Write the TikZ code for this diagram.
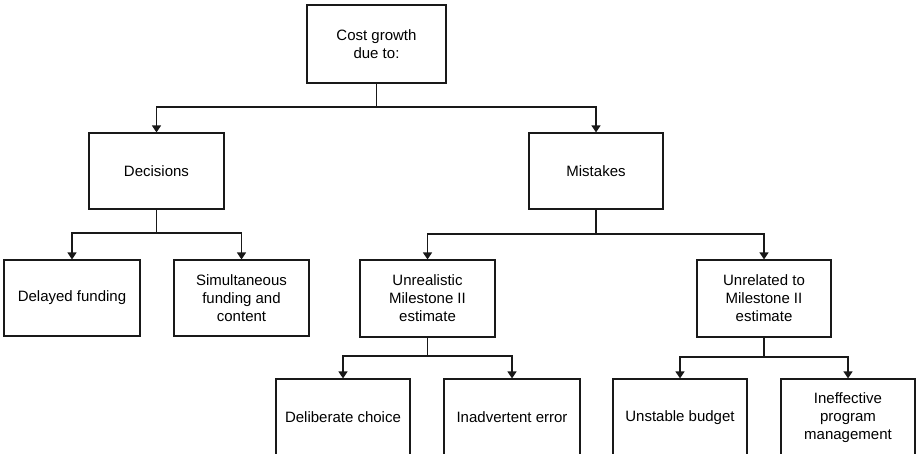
\documentclass[tikz,border=0pt]{standalone}
\usepackage{fontspec}
\setmainfont{Liberation Sans}
\usetikzlibrary{arrows.meta}
\begin{document}
\begin{tikzpicture}[x=1pt,y=-1pt,
  box/.style={draw=black!90, line width=1.2pt, rectangle, align=center, inner sep=0pt,
    font=\fontsize{15}{18}\selectfont},
  conn/.style={draw=black!90, line width=1.2pt},
  arr/.style={conn, -{Triangle[width=9pt,length=7pt]}}]
\useasboundingbox (0,0) rectangle (918,453);
\clip (0,0) rectangle (918,453);
\fill[white] (0,0) rectangle (918,453);
% nodes
\node[box, minimum width=139pt, minimum height=78pt] (top) at (376.5,44) {Cost growth\\due to:};
\node[box, minimum width=135pt, minimum height=76pt] (dec) at (156.5,171) {Decisions};
\node[box, minimum width=134pt, minimum height=76pt] (mis) at (596,171) {Mistakes};
\node[box, minimum width=136pt, minimum height=76pt] (del) at (72,298) {Delayed funding};
\node[box, minimum width=135pt, minimum height=76pt] (sim) at (241.5,298) {Simultaneous\\funding and\\content};
\node[box, minimum width=135pt, minimum height=77pt] (unr) at (427.5,298.5) {Unrealistic\\Milestone II\\estimate};
\node[box, minimum width=134pt, minimum height=77pt] (unl) at (764,298.5) {Unrelated to\\Milestone II\\estimate};
\node[box, minimum width=134pt, minimum height=77pt] (dlb) at (343,417.5) {Deliberate choice};
\node[box, minimum width=136pt, minimum height=77pt] (ina) at (512,417.5) {Inadvertent error};
\node[box, minimum width=134pt, minimum height=77pt] (ust) at (680,417.5) {Unstable budget};
\node[box, minimum width=134pt, minimum height=77pt] (ine) at (848,417.5) {Ineffective\\program\\management};
% junctions
\coordinate (j0) at (376.5,107);
\coordinate (j1) at (156.5,233);
\coordinate (j2) at (596,234);
\coordinate (j3) at (427.5,356);
\coordinate (j4) at (764,357);
% connectors
\draw[conn] (top.south) -- (j0);
\draw[arr] (j0) -| (dec.north);
\draw[arr] (j0) -| (mis.north);
\draw[conn] (dec.south) -- (j1);
\draw[arr] (j1) -| (del.north);
\draw[arr] (j1) -| (sim.north);
\draw[conn] (mis.south) -- (j2);
\draw[arr] (j2) -| (unr.north);
\draw[arr] (j2) -| (unl.north);
\draw[conn] (unr.south) -- (j3);
\draw[arr] (j3) -| (dlb.north);
\draw[arr] (j3) -| (ina.north);
\draw[conn] (unl.south) -- (j4);
\draw[arr] (j4) -| (ust.north);
\draw[arr] (j4) -| (ine.north);
\end{tikzpicture}
\end{document}
